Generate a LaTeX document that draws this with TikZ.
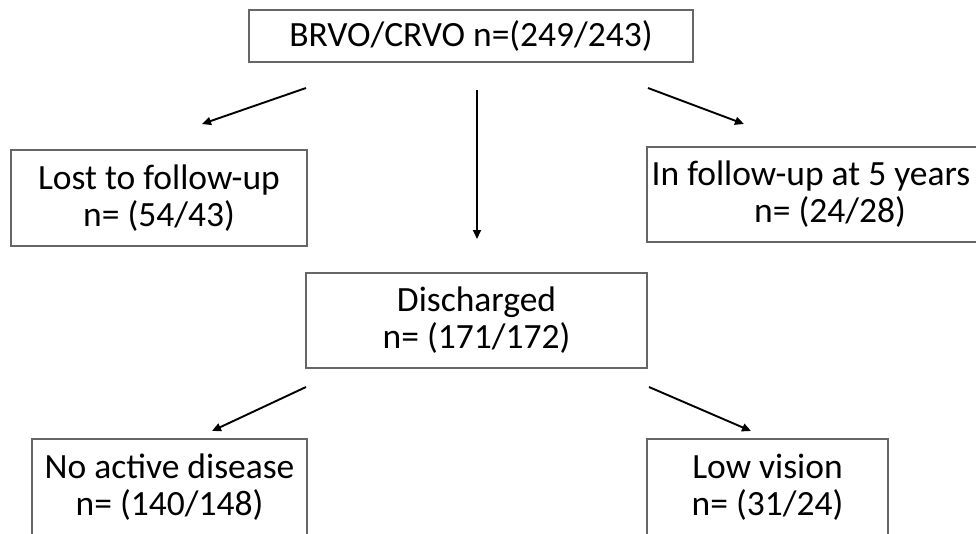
\documentclass[tikz,border=0pt]{standalone}
\usepackage{fontspec}
\setmainfont{Carlito}
\usetikzlibrary{arrows.meta}
\begin{document}
\begin{tikzpicture}[x=1pt,y=-1pt,
  box/.style={draw=black!60, line width=1.1pt, rectangle, inner sep=0pt, align=center,
    font=\fontsize{35.5}{37}\selectfont},
  arr/.style={line width=1.9pt, -{Triangle[length=9pt,width=8pt]}}]
\useasboundingbox (0,0) rectangle (976,533);
\clip (0,0) rectangle (976,533);
\node[box, minimum width=444, minimum height=52] (top) at (471,36) {BRVO/CRVO n=(249/243)};
\node[box, minimum width=296, minimum height=96] (lost) at (159,198) {Lost to follow-up\\n= (54/43)};
\node[box, minimum width=366, minimum height=95] (infu) at (830,194.5) {In follow-up at 5 years\hspace*{38pt}\\n= (24/28)};
\node[box, minimum width=341, minimum height=95] (dis) at (476.5,320.5) {Discharged\\n= (171/172)};
\node[box, minimum width=275, minimum height=96] (noact) at (169.5,487) {No active disease\\n= (140/148)};
\node[box, minimum width=241, minimum height=96] (lowv) at (767.5,487) {Low vision\\n= (31/24)};
\coordinate (a1s) at (306,88);  \coordinate (a1e) at (202,124);
\coordinate (a2s) at (477,90);  \coordinate (a2e) at (477,239);
\coordinate (a3s) at (648,88);  \coordinate (a3e) at (744,124);
\coordinate (a4s) at (306,387); \coordinate (a4e) at (212,431);
\coordinate (a5s) at (649,387); \coordinate (a5e) at (751,431);
\draw[arr] (a1s) -- (a1e);
\draw[arr] (a2s) -- (a2e);
\draw[arr] (a3s) -- (a3e);
\draw[arr] (a4s) -- (a4e);
\draw[arr] (a5s) -- (a5e);
\end{tikzpicture}
\end{document}
